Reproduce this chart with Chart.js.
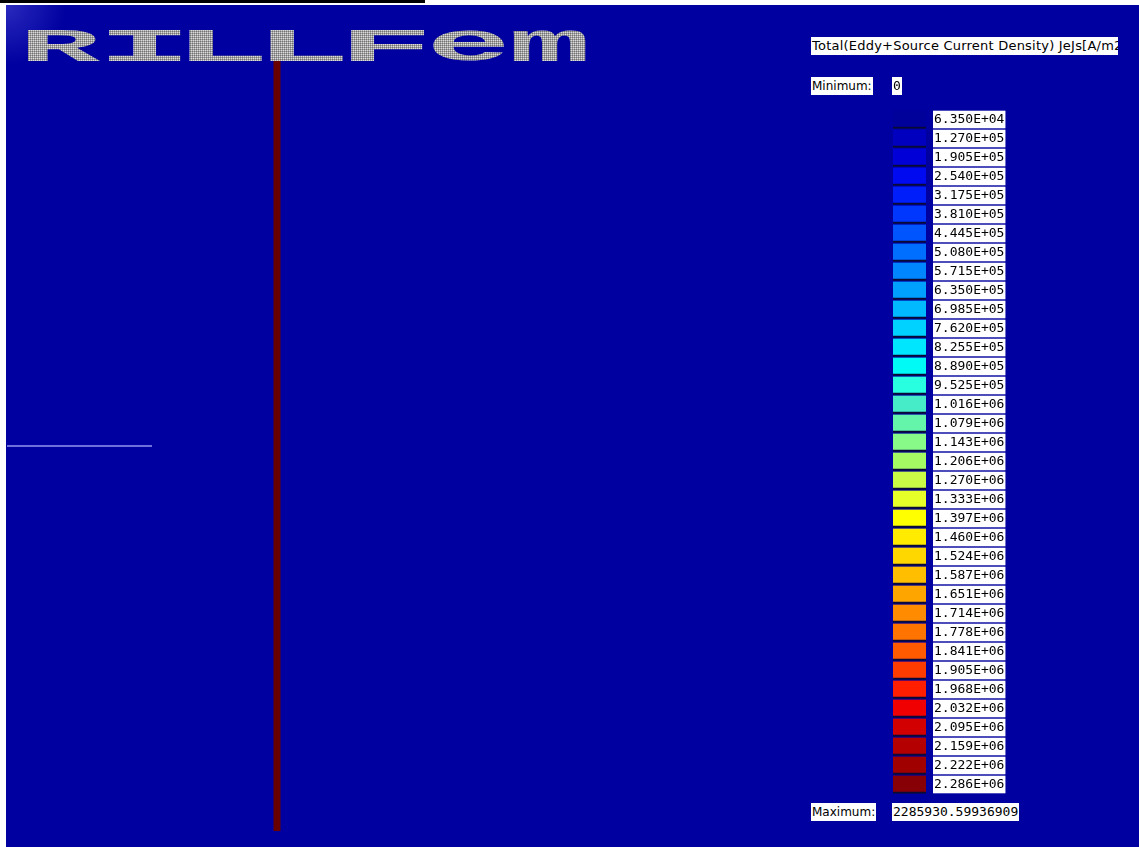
<!DOCTYPE html>
<html>
<head>
<meta charset="utf-8">
<script src="https://cdn.jsdelivr.net/npm/chart.js@4/dist/chart.umd.min.js"></script>
<style>
    body { margin: 0; background: #fff; width: 1139px; height: 847px; overflow: hidden; position: relative; }
    #topbar { position: absolute; left: 0; top: 0; width: 425px; height: 3px; background: #000; }
    #view {
        position: absolute; left: 6px; top: 5px; right: 0; bottom: 0;
        background: radial-gradient(circle at 0 0, rgba(70, 70, 210, 0.6), rgba(0, 0, 160, 0) 60px), #0000a0;
    }
    #modelCanvas { position: absolute; left: 0; top: 0; }
    #legendCanvas { position: absolute; left: 854px; top: 86px; }
    .tag {
        position: absolute; background: #fff; color: #000; white-space: nowrap; overflow: hidden;
        font-family: "DejaVu Sans", sans-serif; font-size: 12px; height: 18px; line-height: 18px; padding: 0 1px;
    }
    .num { font-family: "DejaVu Sans Mono", monospace; font-size: 13px; }
</style>
</head>
<body>
<div id="topbar"></div>
<div id="view">
    <canvas id="modelCanvas" width="780" height="842"></canvas>
    <canvas id="legendCanvas" width="156" height="730"></canvas>
    <div class="tag" id="title" style="left:805px; top:32px; width:305px; font-size:13px; letter-spacing:0.22px;"></div>
    <div class="tag" id="minLabel" style="left:805px; top:72px;">Minimum:</div>
    <div class="tag num" id="minValue" style="left:886px; top:72px;"></div>
    <div class="tag" id="maxLabel" style="left:805px; top:798px;">Maximum:</div>
    <div class="tag num" id="maxValue" style="left:886px; top:798px;"></div>
</div>
<script>
// Contour legend (A/m2)
const plotTitle = 'Total(Eddy+Source Current Density) JeJs[A/m2]';
const minimumValue = '0';
const maximumValue = '2285930.59936909';

const tickLabels = [
    '6.350E+04', '1.270E+05', '1.905E+05', '2.540E+05', '3.175E+05', '3.810E+05',
    '4.445E+05', '5.080E+05', '5.715E+05', '6.350E+05', '6.985E+05', '7.620E+05',
    '8.255E+05', '8.890E+05', '9.525E+05', '1.016E+06', '1.079E+06', '1.143E+06',
    '1.206E+06', '1.270E+06', '1.333E+06', '1.397E+06', '1.460E+06', '1.524E+06',
    '1.587E+06', '1.651E+06', '1.714E+06', '1.778E+06', '1.841E+06', '1.905E+06',
    '1.968E+06', '2.032E+06', '2.095E+06', '2.159E+06', '2.222E+06', '2.286E+06'
];

const swatchColors = [
    'rgb(0,0,155)', 'rgb(0,0,190)', 'rgb(0,0,215)', 'rgb(0,10,240)', 'rgb(0,30,250)', 'rgb(0,55,255)',
    'rgb(0,85,255)', 'rgb(0,110,255)', 'rgb(0,135,255)', 'rgb(0,160,255)', 'rgb(0,185,255)', 'rgb(0,210,255)',
    'rgb(0,230,255)', 'rgb(0,250,245)', 'rgb(40,255,225)', 'rgb(70,235,200)', 'rgb(100,245,170)', 'rgb(135,250,135)',
    'rgb(165,250,100)', 'rgb(200,250,70)', 'rgb(230,255,40)', 'rgb(255,255,0)', 'rgb(255,235,0)', 'rgb(255,215,0)',
    'rgb(255,190,0)', 'rgb(255,165,0)', 'rgb(255,140,0)', 'rgb(255,115,0)', 'rgb(255,90,0)', 'rgb(255,60,0)',
    'rgb(255,30,0)', 'rgb(240,0,0)', 'rgb(210,0,0)', 'rgb(180,0,0)', 'rgb(160,0,0)', 'rgb(135,0,5)'
];
const swatchSpan = [0, 1];

// Model geometry (mm)
const viewX = [-271, 509];
const viewY = [-16, 826];
const conductorX = [0, 0];
const conductorY = [0, 771];
const groundX = [-270, -125];
const groundY = [385, 385];

const logoText = 'RILLFem';

let modelChart = null;
let legendChart = null;

document.addEventListener('DOMContentLoaded', () => {
    document.getElementById('title').textContent = plotTitle;
    document.getElementById('minValue').textContent = minimumValue;
    document.getElementById('maxValue').textContent = maximumValue;
    drawModel();
    drawLegend();
});

function toPoints(xs, ys) {
    return xs.map((x, i) => ({ x, y: ys[i] }));
}

// Halftone fill used by the logo lettering
function makeDotPattern(ctx) {
    const tile = document.createElement('canvas');
    tile.width = 2;
    tile.height = 2;
    const t = tile.getContext('2d');
    t.fillStyle = '#a2a2a2';
    t.fillRect(0, 0, 2, 2);
    t.fillStyle = '#dcdcdc';
    t.fillRect(0, 0, 1, 1);
    t.fillStyle = '#747474';
    t.fillRect(1, 1, 1, 1);
    return ctx.createPattern(tile, 'repeat');
}

const logoPlugin = {
    id: 'logo',
    afterDraw(chart) {
        const box = { x: 21, y: 25, w: 73, h: 31, step: 81 };
        const off = document.createElement('canvas');
        off.width = box.step * logoText.length;
        off.height = box.h;
        const o = off.getContext('2d');
        o.fillStyle = '#fff';
        o.font = 'bold 100px "Liberation Mono"';
        o.textBaseline = 'alphabetic';
        [...logoText].forEach((ch, i) => {
            const m = o.measureText(ch);
            const gw = m.actualBoundingBoxLeft + m.actualBoundingBoxRight;
            const gh = m.actualBoundingBoxAscent + m.actualBoundingBoxDescent;
            o.save();
            o.translate(i * box.step, 0);
            o.scale(box.w / gw, box.h / gh);
            o.fillText(ch, m.actualBoundingBoxLeft, m.actualBoundingBoxAscent);
            o.restore();
        });
        o.globalCompositeOperation = 'source-in';
        o.fillStyle = makeDotPattern(o);
        o.fillRect(0, 0, off.width, off.height);
        chart.ctx.drawImage(off, box.x, box.y);
    }
};

function drawModel() {
    const ctx = document.getElementById('modelCanvas').getContext('2d');
    if (modelChart) modelChart.destroy();
    modelChart = new Chart(ctx, {
        type: 'scatter',
        data: {
            datasets: [
                {
                    data: toPoints(conductorX, conductorY),
                    showLine: true,
                    borderColor: 'rgb(105,0,0)',
                    borderWidth: 7,
                    pointRadius: 0
                },
                {
                    data: toPoints(conductorX, conductorY),
                    showLine: true,
                    borderColor: 'rgb(180,8,8)',
                    borderWidth: 5,
                    pointRadius: 0
                },
                {
                    data: toPoints(groundX, groundY),
                    showLine: true,
                    borderColor: 'rgb(150,150,240)',
                    borderWidth: 1.5,
                    pointRadius: 0
                }
            ]
        },
        options: {
            responsive: false,
            animation: false,
            layout: { padding: 0 },
            plugins: { legend: { display: false }, tooltip: { enabled: false } },
            scales: {
                x: { type: 'linear', display: false, min: viewX[0], max: viewX[1] },
                y: { type: 'linear', display: false, min: viewY[0], max: viewY[1] }
            }
        },
        plugins: [logoPlugin]
    });
}

function drawLegend() {
    const ctx = document.getElementById('legendCanvas').getContext('2d');
    if (legendChart) legendChart.destroy();
    legendChart = new Chart(ctx, {
        type: 'bar',
        data: {
            labels: tickLabels,
            datasets: [{
                data: tickLabels.map(() => swatchSpan),
                backgroundColor: swatchColors,
                borderColor: 'rgb(10,10,50)',
                borderWidth: { top: 0, left: 0, right: 0, bottom: 2 },
                borderSkipped: false,
                barThickness: 18
            }]
        },
        options: {
            indexAxis: 'y',
            responsive: false,
            animation: false,
            // padding sits above the room the tick labels ask for
            layout: { padding: { left: 33, top: 19, bottom: 27, right: 0 } },
            plugins: { legend: { display: false }, tooltip: { enabled: false } },
            scales: {
                x: { display: false, min: 0, max: 1 },
                y: {
                    position: 'right',
                    grid: { display: false, drawTicks: false },
                    border: { display: false },
                    afterFit: scale => { scale.width = 90; },
                    ticks: {
                        padding: 8,
                        autoSkip: false,
                        color: '#000',
                        font: { family: '"DejaVu Sans Mono"', size: 13 },
                        showLabelBackdrop: true,
                        backdropColor: '#fff',
                        backdropPadding: { top: 1, bottom: 1, left: 1, right: 1 }
                    }
                }
            }
        }
    });
}
</script>
</body>
</html>
